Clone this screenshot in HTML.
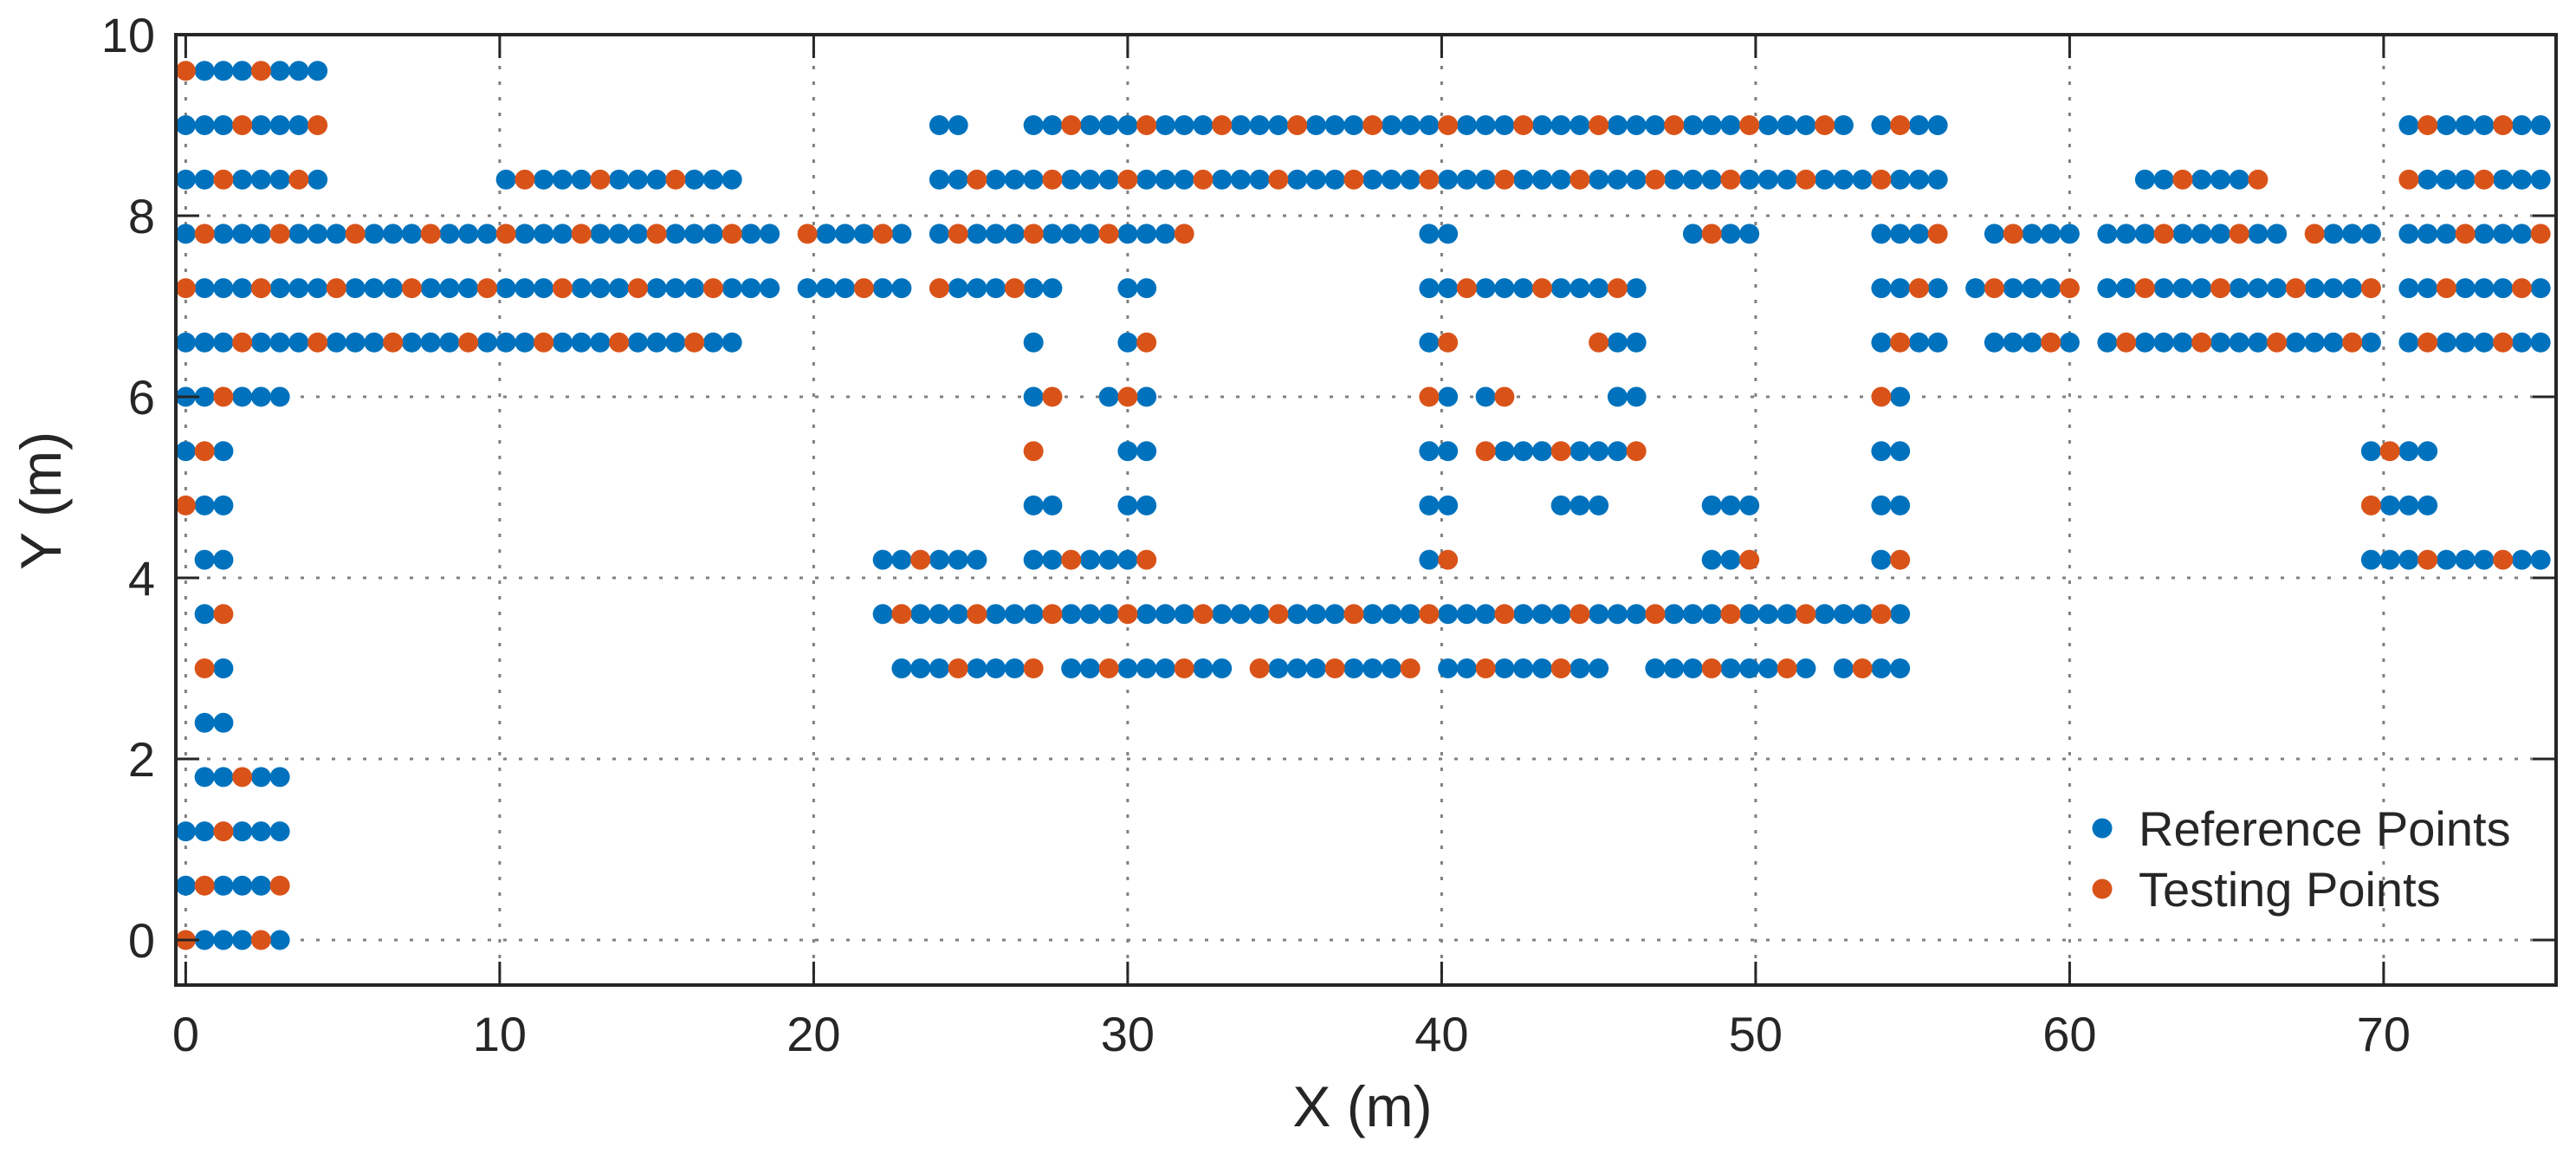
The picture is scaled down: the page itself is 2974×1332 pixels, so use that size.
<!DOCTYPE html>
<html><head><meta charset="utf-8">
<style>
html,body{margin:0;padding:0;background:#fff;}
svg{display:block;font-family:"Liberation Sans",Arial,sans-serif;}
</style></head>
<body>
<svg id="chart" width="2974" height="1332" viewBox="0 0 2974 1332" xmlns="http://www.w3.org/2000/svg">
<rect x="0" y="0" width="2974" height="1332" fill="#fff"/>
<g id="grid"></g>
<g id="marks"></g>
<g id="axes"></g>
<g>
  <circle cx="2427" cy="956" r="11.5" fill="#0072BD"/>
  <text x="2469" y="976" font-size="56" fill="#262626">Reference Points</text>
  <circle cx="2427" cy="1026" r="11.5" fill="#D95319"/>
  <text x="2469" y="1046" font-size="56" fill="#262626">Testing Points</text>
</g>
<text x="1573" y="1300" font-size="66" text-anchor="middle" fill="#262626">X (m)</text>
<text x="0" y="0" font-size="66" text-anchor="middle" fill="#262626" transform="translate(70,578) rotate(-90)">Y (m)</text>
</svg>
<script>
// Segments of grid points (step 0.6 m): row y, start x, end x
const segY  = [9.6,9.0,9.0,9.0,9.0,9.0, 8.4,8.4,8.4,8.4,8.4, 7.8,7.8,7.8,7.8,7.8,7.8,7.8,7.8,7.8,7.8, 7.2,7.2,7.2,7.2,7.2,7.2,7.2,7.2,7.2, 6.6,6.6,6.6,6.6,6.6,6.6,6.6,6.6,6.6, 6.0,6.0,6.0,6.0,6.0,6.0,6.0, 5.4,5.4,5.4,5.4,5.4,5.4,5.4, 4.8,4.8,4.8,4.8,4.8,4.8,4.8,4.8, 4.2,4.2,4.2,4.2,4.2,4.2,4.2, 3.6,3.6, 3.0,3.0,3.0,3.0,3.0,3.0,3.0, 2.4,1.8,1.2,0.6,0.0];
const segX0 = [0,0,24,27,54,70.8, 0,10.2,24,62.4,70.8, 0,19.8,24,39.6,48,54,57.6,61.2,67.8,70.8, 0,19.8,24,30,39.6,54,57,61.2,70.8, 0,27,30,39.6,45,54,57.6,61.2,70.8, 0,27,29.4,39.6,41.4,45.6,54, 0,27,30,39.6,41.4,54,69.6, 0,27,30,39.6,43.8,48.6,54,69.6, 0.6,22.2,27,39.6,48.6,54,69.6, 0.6,22.2, 0.6,22.8,28.2,34.2,40.2,46.8,52.8, 0.6,0.6,0,0,0];
const segX1 = [4.2,4.2,24.6,52.8,55.8,75, 4.2,17.4,55.8,66,75, 18.6,22.8,31.8,40.2,49.8,55.8,60,66.6,69.6,75, 18.6,22.8,27.6,30.6,46.2,55.8,60,69.6,75, 17.4,27,30.6,40.2,46.2,55.8,60,69.6,75, 3,27.6,30.6,40.2,42,46.2,54.6, 1.2,27,30.6,40.2,46.2,54.6,71.4, 1.2,27.6,30.6,40.2,45,49.8,54.6,71.4, 1.2,25.2,30.6,40.2,49.8,54.6,75, 1.2,54.6, 1.2,27,33,39,45,51.6,54.6, 1.2,3,3,3,3];
// Testing points, grouped by row
const testRowY = [9.6, 9.0, 8.4, 7.8, 7.2, 6.6, 6.0, 5.4, 4.8, 4.2, 3.6, 3.0, 1.8, 1.2, 0.6, 0.0];
const testRowX = [
 [0,2.4],
 [1.8,4.2,28.2,30.6,33.0,35.4,37.8,40.2,42.6,45.0,47.4,49.8,52.2,54.6,71.4,73.8],
 [1.2,3.6,10.8,13.2,15.6,25.2,27.6,30.0,32.4,34.8,37.2,39.6,42.0,44.4,46.8,49.2,51.6,54.0,63.6,66.0,70.8,73.2],
 [0.6,3.0,5.4,7.8,10.2,12.6,15.0,17.4,19.8,22.2,24.6,27.0,29.4,31.8,48.6,55.8,58.2,63.0,65.4,67.8,72.6,75.0],
 [0,2.4,4.8,7.2,9.6,12.0,14.4,16.8,21.6,24.0,26.4,40.8,43.2,45.6,55.2,57.6,60.0,62.4,64.8,67.2,69.6,72.0,74.4],
 [1.8,4.2,6.6,9.0,11.4,13.8,16.2,30.6,40.2,45.0,54.6,59.4,61.8,64.2,66.6,69.0,71.4,73.8],
 [1.2,27.6,30.0,39.6,42.0,54.0],
 [0.6,27.0,41.4,43.8,46.2,70.2],
 [0,69.6],
 [23.4,28.2,30.6,40.2,49.8,54.6,71.4,73.8],
 [1.2,22.8,25.2,27.6,30.0,32.4,34.8,37.2,39.6,42.0,44.4,46.8,49.2,51.6,54.0],
 [0.6,24.6,27.0,29.4,31.8,34.2,36.6,39.0,41.4,43.8,48.6,51.0,53.4],
 [1.8],
 [1.2],
 [0.6,3.0],
 [0,2.4]
];
const xTicks = [0,10,20,30,40,50,60,70];
const yTicks = [0,2,4,6,8,10];

const NS = 'http://www.w3.org/2000/svg';
const PL = 203, PR = 2951, PT = 40, PB = 1137;
function sx(x){ return 214.4 + 36.25 * x; }
function sy(y){ return 1085 - 104.5 * y; }
function mk(tag, attrs, parent){
  const e = document.createElementNS(NS, tag);
  for (const k in attrs) e.setAttribute(k, attrs[k]);
  parent.appendChild(e);
  return e;
}
const grid = document.getElementById('grid');
const marks = document.getElementById('marks');
const axes = document.getElementById('axes');

xTicks.forEach(t => {
  const l = mk('line', {x1: sx(t), x2: sx(t), y1: PT, y2: PB, stroke: '#808080', 'stroke-width': 3, 'stroke-dasharray': '4 14'}, grid);
  
  
});
yTicks.forEach(t => {
  const l = mk('line', {x1: PL, x2: PR, y1: sy(t), y2: sy(t), stroke: '#808080', 'stroke-width': 3, 'stroke-dasharray': '4 14'}, grid);
  
  
});

// points
const testKeys = new Set();
for (let r = 0; r < testRowY.length; r++) {
  testRowX[r].forEach(x => testKeys.add(testRowY[r].toFixed(1) + '_' + Math.round(x / 0.6)));
}
for (let s = 0; s < segY.length; s++) {
  const k0 = Math.round(segX0[s] / 0.6), k1 = Math.round(segX1[s] / 0.6);
  for (let k = k0; k <= k1; k++) {
    if (testKeys.has(segY[s].toFixed(1) + '_' + k)) continue;
    const c = mk('circle', {cx: sx(k * 0.6), cy: sy(segY[s]), r: 11.5, fill: '#0072BD'}, marks);
    
    
  }
}
for (let r = 0; r < testRowY.length; r++) {
  testRowX[r].forEach(x => {
    const c = mk('circle', {cx: sx(x), cy: sy(testRowY[r]), r: 11.5, fill: '#D95319'}, marks);
    
    
  });
}

// axes box
const box = mk('rect', {x: PL, y: PT, width: PR - PL, height: PB - PT, fill: 'none', stroke: '#262626', 'stroke-width': 4}, axes);


xTicks.forEach(t => {
  const a = mk('line', {x1: sx(t), x2: sx(t), y1: PB, y2: PB - 27, stroke: '#262626', 'stroke-width': 3}, axes);
  
  
  const b = mk('line', {x1: sx(t), x2: sx(t), y1: PT, y2: PT + 27, stroke: '#262626', 'stroke-width': 3}, axes);
  
  
  const tx = mk('text', {x: sx(t), y: 1213, 'font-size': 56, 'text-anchor': 'middle', fill: '#262626'}, axes);
  tx.textContent = String(t);
  
  
});
yTicks.forEach(t => {
  const a = mk('line', {x1: PL, x2: PL + 27, y1: sy(t), y2: sy(t), stroke: '#262626', 'stroke-width': 3}, axes);
  
  
  const b = mk('line', {x1: PR, x2: PR - 27, y1: sy(t), y2: sy(t), stroke: '#262626', 'stroke-width': 3}, axes);
  
  
  const tx = mk('text', {x: 179, y: sy(t) + 20, 'font-size': 56, 'text-anchor': 'end', fill: '#262626'}, axes);
  tx.textContent = String(t);
  
  
});
</script>
</body></html>
